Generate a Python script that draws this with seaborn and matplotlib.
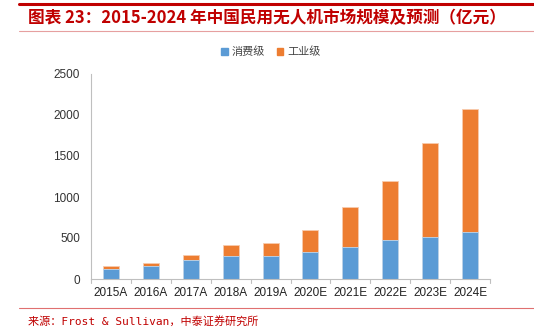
import matplotlib
matplotlib.use("Agg")
import matplotlib.pyplot as plt
from matplotlib.lines import Line2D
from matplotlib.patches import Patch
import seaborn as sns
import pandas as pd

years = ["2015A", "2016A", "2017A", "2018A", "2019A", "2020E", "2021E", "2022E", "2023E", "2024E"]
consumer = [125, 155, 227, 285, 285, 327, 396, 474, 518, 572]
industrial = [32, 45, 70, 125, 155, 273, 477, 726, 1136, 1507]
yticks = [0, 500, 1000, 1500, 2000, 2500]

sns.set_theme(style="white")
plt.rcParams['font.family'] = ['Liberation Sans', 'Noto Sans CJK SC', 'DejaVu Sans']

df = pd.DataFrame({"year": years, "consumer": consumer, "industrial": industrial})
df["total"] = df["consumer"] + df["industrial"]

W, H = 534, 327
fig = plt.figure(figsize=(W / 100, H / 100), dpi=100)
ax = fig.add_axes([91 / W, 1 - 279 / H, (490 - 91) / W, (279 - 74) / H])

blue = "#5B9BD5"
orange = "#ED7D31"
sns.barplot(data=df, x="year", y="total", color=orange, width=0.4, ax=ax,
            edgecolor="#F8CBAD", linewidth=0.6, saturation=1)
sns.barplot(data=df, x="year", y="consumer", color=blue, width=0.4, ax=ax,
            edgecolor="#BDD7EE", linewidth=0.6, saturation=1)

ax.set_ylim(0, 2500)
ax.set_yticks(yticks)
ax.set_xlim(-0.5, len(years) - 0.5)
ax.set_xlabel("")
ax.set_ylabel("")
for s in ["top", "right"]:
    ax.spines[s].set_visible(False)
for s in ["left", "bottom"]:
    ax.spines[s].set_color("#BFBFBF")
    ax.spines[s].set_linewidth(0.8)
ax.tick_params(axis="y", length=0, labelsize=8.5, colors="#333333", pad=8)
ax.tick_params(axis="x", length=0, labelsize=8.5, colors="#222222", pad=6)
for i in range(len(years) + 1):
    ax.plot([i - 0.5, i - 0.5], [0, -0.018], transform=ax.get_xaxis_transform(),
            color="#BFBFBF", lw=0.8, clip_on=False)

leg = fig.legend(handles=[Patch(color=blue, label="消费级"), Patch(color=orange, label="工业级")],
                 loc="center", bbox_to_anchor=(271 / W, 1 - 52 / H), ncol=2, frameon=False,
                 handlelength=0.6, handleheight=0.6, columnspacing=1.0,
                 handletextpad=0.4, prop={"family": ["Noto Sans CJK SC"], "size": 8})
for t in leg.get_texts():
    t.set_color("#444444")

# Title and decorations
fig.add_artist(Line2D([19 / W, 1.0], [1 - 4 / H, 1 - 4 / H], color="#C00000", lw=2.2))
fig.text(28 / W, 1 - 18 / H, "图表 23：2015-2024 年中国民用无人机市场规模及预测（亿元）",
         color="#C00000", fontsize=12, fontweight="bold", style="italic",
         family=["Noto Sans CJK SC"], va="center", ha="left")
fig.add_artist(Line2D([19 / W, 1.0], [1 - 31 / H, 1 - 31 / H], color="#E6A0A0", lw=0.8))
fig.add_artist(Line2D([19 / W, 1.0], [1 - 308 / H, 1 - 308 / H], color="#E07070", lw=0.8))
fig.text(28 / W, 1 - 321 / H, "来源：Frost & Sullivan，中泰证券研究所",
         color="#C00000", fontsize=8, family=["DejaVu Sans Mono", "Noto Sans CJK SC"],
         va="center", ha="left")

fig.savefig("out.png", dpi=100)
